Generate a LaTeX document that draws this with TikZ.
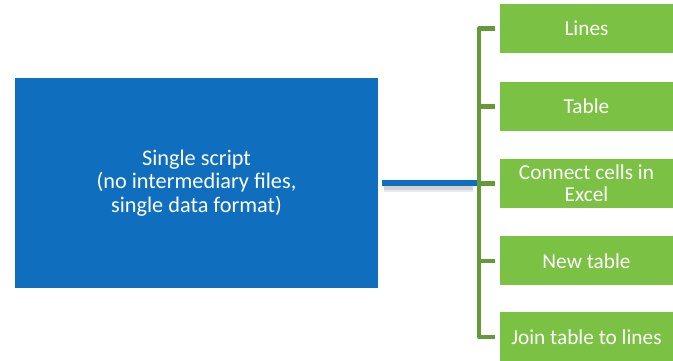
\documentclass[tikz,border=0pt]{standalone}
\usepackage{fontspec}
\setmainfont{Carlito}
\definecolor{boxblue}{HTML}{0F6FBE}
\definecolor{boxgreen}{HTML}{7BC143}
\definecolor{brkgreen}{HTML}{66993A}
\begin{document}
\begin{tikzpicture}[x=1pt,y=1pt,
  gbox/.style={fill=boxgreen,draw=none,minimum width=173pt,minimum height=49pt,inner sep=0pt,
    text=white,font=\fontsize{21.3}{22}\selectfont,align=center},
  bbox/.style={fill=boxblue,draw=none,minimum width=363pt,minimum height=210pt,inner sep=0pt,
    text=white,font=\fontsize{22.3}{23.4}\selectfont,align=center},
  brk/.style={draw=brkgreen,line width=4.5pt}]
\useasboundingbox (0,0) rectangle (673,361);
\node[bbox] (main) at (196.5,178) {Single script\\(no intermediary files,\\single data format)};
\node[gbox] (g1) at (586.5,332.5) {Lines};
\node[gbox] (g2) at (586.5,254.5) {Table};
\node[gbox] (g3) at (586.5,177.5) {Connect cells in\\Excel};
\node[gbox] (g4) at (586.5,100) {New table};
\node[gbox] (g5) at (586.5,24) {Join table to lines};
\coordinate (jn) at (477,177.5);
% shadow of connector
\fill[black!18] ([xshift=6pt,yshift=-7pt]main.east |- jn) rectangle ([xshift=-4pt,yshift=-2pt]jn);
\fill[black!8] ([xshift=6pt,yshift=-9pt]main.east |- jn) rectangle ([xshift=-4pt,yshift=-7pt]jn);
\draw[draw=boxblue,line width=6pt] ([xshift=4pt]main.east |- jn) -- (jn);
% bracket
\draw[brk,line join=round] ([xshift=-5pt]g1.west) -| (479,330.5) -- (479,26) |- ([xshift=-5pt]g5.west);
\draw[brk] ([xshift=-21pt]g1.west) -- ([xshift=-5pt]g1.west);
\draw[brk] ([xshift=-21pt]g2.west) -- ([xshift=-5pt]g2.west);
\draw[brk] ([xshift=-21pt]g3.west) -- ([xshift=-5pt]g3.west);
\draw[brk] ([xshift=-21pt]g4.west) -- ([xshift=-5pt]g4.west);
\draw[brk] ([xshift=-21pt]g5.west) -- ([xshift=-5pt]g5.west);
\end{tikzpicture}
\end{document}
